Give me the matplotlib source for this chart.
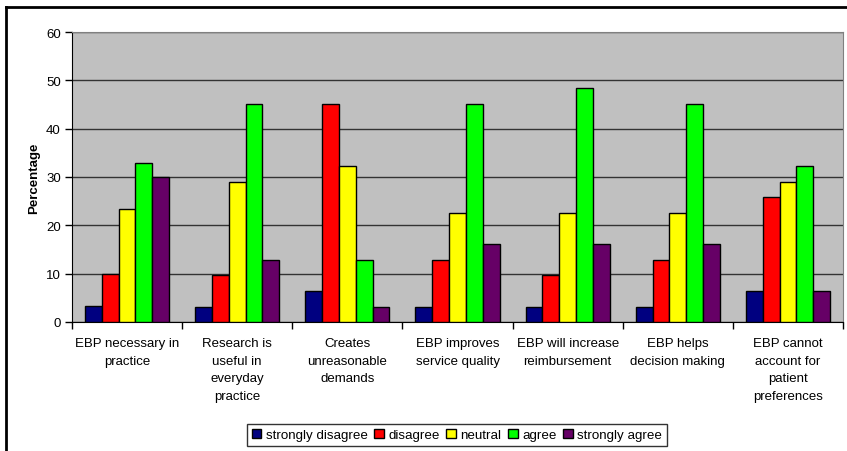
import numpy as np
import matplotlib
matplotlib.use("Agg")
import matplotlib.pyplot as plt
from matplotlib.lines import Line2D

plt.rcParams['font.family'] = ['Liberation Sans', 'DejaVu Sans']

categories = ["EBP necessary in\npractice",
              "Research is\nuseful in\neveryday\npractice",
              "Creates\nunreasonable\ndemands",
              "EBP improves\nservice quality",
              "EBP will increase\nreimbursement",
              "EBP helps\ndecision making",
              "EBP cannot\naccount for\npatient\npreferences"]

series_names = ["strongly disagree", "disagree", "neutral", "agree", "strongly agree"]
colors = ["#000080", "#FF0000", "#FFFF00", "#00FF00", "#660066"]

strongly_disagree = [3.3, 3.2, 6.5, 3.2, 3.2, 3.2, 6.5]
disagree = [10.0, 9.7, 45.2, 12.9, 9.7, 12.9, 25.8]
neutral = [23.3, 29.0, 32.3, 22.6, 22.6, 22.6, 29.0]
agree = [33.0, 45.2, 12.9, 45.2, 48.4, 45.2, 32.3]
strongly_agree = [30.0, 12.9, 3.2, 16.1, 16.1, 16.1, 6.5]

values = [strongly_disagree, disagree, neutral, agree, strongly_agree]

fig = plt.figure(figsize=(8.47, 4.52), dpi=100)
ax = fig.add_axes([72 / 847, 1 - 323 / 452, 771 / 847, 290 / 452])
ax.set_facecolor("#C0C0C0")

x = np.arange(len(categories))
w = 0.153
for i, (vals, name, c) in enumerate(zip(values, series_names, colors)):
    ax.bar(x + (i - 2) * w, vals, w, color=c, edgecolor="black",
           linewidth=1.0, label=name, zorder=3)

ax.set_xlim(-0.5, len(categories) - 0.5)
ax.set_ylim(0, 60)
ax.set_yticks(range(0, 61, 10))
ax.yaxis.grid(True, color="#333333", linewidth=1.0, zorder=1)
ax.tick_params(axis='y', length=5, width=1, labelsize=9.5, pad=3)

# group separators as ticks, labels in the middle of each group
ax.set_xticks(np.arange(-0.5, len(categories), 1.0))
ax.set_xticklabels([])
ax.set_xticks(x, minor=True)
ax.set_xticklabels(categories, minor=True, fontsize=9.5, linespacing=1.62)
ax.tick_params(axis='x', which='major', length=5, width=1)
ax.tick_params(axis='x', which='minor', length=0, pad=11)

for s in ["top", "right"]:
    ax.spines[s].set_color("#808080")
for s in ["left", "bottom"]:
    ax.spines[s].set_color("black")

ax.set_ylabel("Percentage", fontsize=9.5, fontweight="bold", labelpad=4)

leg = ax.legend(loc="center", bbox_to_anchor=(457 / 847, 1 - 436 / 452),
                bbox_transform=fig.transFigure, ncol=5, fontsize=9.6,
                frameon=True, fancybox=False, edgecolor="black",
                handlelength=0.7, handleheight=0.7, handletextpad=0.35,
                columnspacing=0.5, borderpad=0.35, borderaxespad=0)
leg.get_frame().set_linewidth(1.0)

# outer chart frame (left and top edges)
fig.add_artist(Line2D([6 / 847, 6 / 847], [0, 1 - 8 / 452], color="black", linewidth=2))
fig.add_artist(Line2D([6 / 847, 1], [1 - 8 / 452, 1 - 8 / 452], color="black", linewidth=2))

fig.savefig("out.png", dpi=100)
